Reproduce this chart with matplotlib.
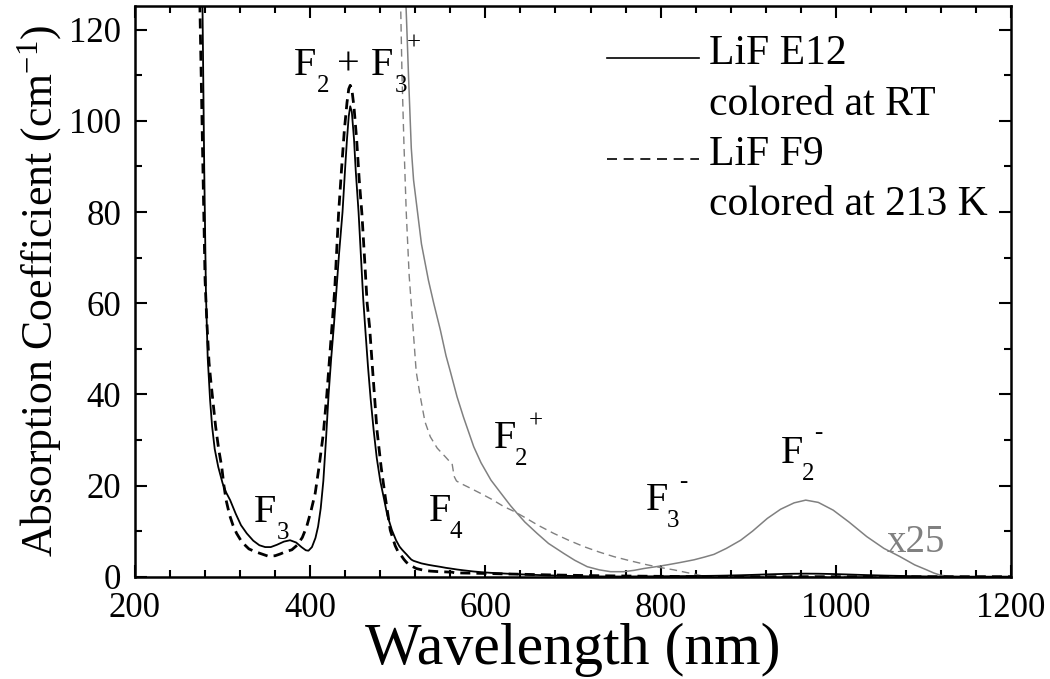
import numpy as np
import matplotlib
matplotlib.use("Agg")
import matplotlib.pyplot as plt
from matplotlib.lines import Line2D
from matplotlib.legend_handler import HandlerLine2D
from matplotlib.ticker import MultipleLocator

plt.rcParams['font.family'] = ['Liberation Serif', 'DejaVu Serif']
plt.rcParams['mathtext.fontset'] = 'custom'
plt.rcParams['mathtext.rm'] = 'Liberation Serif'
plt.rcParams['mathtext.it'] = 'Liberation Serif:italic'

# ---------------- data ----------------
# LiF E12 colored at RT  (main UV/visible part)
e12_wl = [277, 279, 281, 283, 285.7, 288, 291, 295, 300, 304, 308.6, 315, 321, 327.6,
          335, 342, 348.6, 355, 362, 370, 377, 384, 390, 395, 398, 402, 406, 409, 412,
          415, 418, 421, 424, 427, 430, 433, 436.9, 440, 442, 444, 445.7, 447.5, 450,
          452, 455.2, 458, 460.5, 463, 466, 469, 472.4, 476, 480, 483.8, 488, 493.3,
          498, 502, 505]
e12_ab = [126, 90, 62, 48, 38.8, 33, 28, 24.1, 20.5, 18.5, 16.8, 13.8, 11.3, 9.5,
          7.9, 6.9, 6.5, 6.5, 7.0, 7.7, 8.0, 7.5, 6.5, 5.8, 5.7, 6.5, 8.5, 11, 15,
          21, 30, 40, 48, 55, 63, 71, 80, 90, 96, 101, 103.2, 102, 96,
          89, 80, 70, 61, 54, 46, 39, 32.2, 26, 21, 17.5, 13.5, 10.2,
          8.0, 6.6, 5.9]
# LiF E12, tail magnified x25 (grey solid)
e12x25_wl = [505, 508, 510, 512.4, 515.4, 518, 522.7, 527, 535, 541, 548.6, 555, 560,
             567.6, 575, 586.7, 595, 606.3, 617, 628.6, 636.2, 645, 659, 672, 689.5,
             702, 716.2, 730, 742.9, 757.7, 770, 781, 795, 807.6, 822, 838, 850, 860.9,
             875, 891.4, 905, 921.9, 937, 952.4, 965.7, 980, 997, 1015, 1035.3, 1055,
             1073.3, 1090, 1103.7, 1112, 1120, 1130, 1150, 1200]
e12x25_ab = [150, 132, 122, 109, 94, 87, 79.7, 73, 65, 60, 54.1, 48.5, 45,
             39.5, 35, 28.5, 25, 21.2, 18.5, 15.6, 13.9, 12.0, 9.5, 7.3, 5.1,
             3.6, 2.2, 1.5, 1.1, 1.1, 1.4, 1.8, 2.2, 2.6, 3.1, 3.7, 4.3, 4.9,
             6.2, 8.0, 10.0, 12.8, 14.8, 16.2, 16.8, 16.3, 14.6, 12.0, 8.8, 6.2,
             4.4, 2.6, 1.5, 0.8, 0.3, 0.1, 0.0, 0.0]

# LiF F9 colored at 213 K (main part)
f9_wl = [274, 277, 280, 282, 284.5, 286.5, 288.8, 292, 295.5, 299, 301.5, 304, 308,
         312, 316, 322, 330, 337, 343, 352, 360, 366, 372, 379, 385, 391, 396, 401,
         405.7, 410, 415, 419, 423.7, 428, 432.4, 436, 439, 442, 444, 445.7, 447.5,
         450, 453, 456, 459, 462, 465, 467.8, 471, 476.2, 481, 485.7, 491.4, 497,
         500, 503]
f9_ab = [126, 95, 65, 56, 47, 43, 38.8, 33, 28, 24.1, 20, 16.8, 13.5,
         11.2, 9.5, 7.6, 6.1, 5.5, 5.1, 4.5, 4.6, 5.0, 5.5, 5.9, 6.9, 8.6, 11, 14.5,
         18.3, 24, 31.4, 40, 52, 63, 79.7, 90, 98, 104, 107, 107.8, 107,
         103, 96, 87, 79.7, 70, 60, 54.8, 46, 32.2, 24, 17.5, 10.2, 6.8,
         5.6, 4.8]
# LiF F9, tail magnified x25 (grey dashed)
f9x25_wl = [500, 503, 504.8, 507, 509.7, 513, 517.3, 521, 525.7, 531, 537.1, 545,
            554.3, 559, 561.9, 563.5, 564.6, 567, 571.4, 582, 594.3, 607, 620.9, 633,
            645, 660, 678, 695, 712.4, 730, 746.7, 765, 784.8, 800, 815.2, 830, 838,
            846, 852, 1200]
f9x25_ab = [150, 128, 110, 95, 79.7, 66, 54.8, 45, 39.5, 34, 30.7, 28.2,
            26.3, 25.3, 24.9, 23, 21.9, 21, 20.5, 19.5, 18.3, 17, 15.4, 14.3,
            13.0, 11.3, 9.5, 8.0, 6.6, 5.4, 4.4, 3.5, 2.6, 2.0, 1.5, 0.9, 0.6,
            0.25, 0.0, 0.0]
magnification = 25

x_ticks = [200, 400, 600, 800, 1000, 1200]
y_ticks = [0, 20, 40, 60, 80, 100, 120]

# ---------------- assemble full spectra ----------------
def full(main_wl, main_ab, mag_wl, mag_ab):
    mw = np.asarray(mag_wl, float)
    ma = np.asarray(mag_ab, float) / magnification
    keep = mw > main_wl[-1]
    return (np.concatenate([main_wl, mw[keep]]),
            np.concatenate([main_ab, ma[keep]]))

e12_x, e12_y = full(e12_wl, e12_ab, e12x25_wl, e12x25_ab)
f9_x, f9_y = full(f9_wl, f9_ab, f9x25_wl, f9x25_ab)

# ---------------- figure ----------------
fig = plt.figure(figsize=(10.5, 6.79), dpi=100)
ax = fig.add_axes([135 / 1050, 1 - 576.7 / 679, 876 / 1050, 570.7 / 679])

GREY = '#808080'
ax.plot(e12x25_wl, e12x25_ab, color=GREY, lw=1.1, zorder=2)
ax.plot(f9x25_wl, f9x25_ab, color=GREY, lw=1.0, dashes=(5.5, 3.5), zorder=2)
ax.plot(e12_x, e12_y, color='black', lw=1.3, zorder=3)
ax.plot(f9_x, f9_y, color='black', lw=2.0, dashes=(3.6, 2.2), zorder=3)

ax.set_xlim(200, 1200)
ax.set_ylim(0, 125.2)
ax.set_xticks(x_ticks)
ax.set_yticks(y_ticks)
ax.xaxis.set_minor_locator(MultipleLocator(40))
ax.yaxis.set_minor_locator(MultipleLocator(10))
ax.tick_params(which='both', direction='in', top=True, right=True, width=1.5)
ax.tick_params(which='major', length=8.4, labelsize=25)
ax.tick_params(axis='x', which='major', pad=11)
ax.tick_params(axis='y', which='major', pad=10)
ax.tick_params(which='minor', length=4.8)
for s in ax.spines.values():
    s.set_linewidth(1.8)

ax.set_xlabel('Wavelength (nm)', fontsize=43)
ax.set_ylabel(r'Absorption Coefficient (cm$^{\mathregular{-1}}$)', fontsize=31.5)
ax.xaxis.set_label_coords(0.5, -0.080)
ax.yaxis.set_label_coords(-0.081, 0.5)

# ---------------- legend ----------------
class LowLine(HandlerLine2D):
    def create_artists(self, legend, orig_handle, xdescent, ydescent, width,
                       height, fontsize, trans):
        arts = super().create_artists(legend, orig_handle, xdescent, ydescent,
                                      width, height, fontsize, trans)
        for a in arts:
            a.set_ydata(np.asarray(a.get_ydata(), float) - 0.2 * fontsize)
        return arts

h_solid = Line2D([], [], color='black', lw=1.2)
h_dash = Line2D([], [], color='black', lw=1.2, dashes=(6, 4))
h_none = Line2D([], [], color='none')
leg = ax.legend([h_solid, h_none, h_dash, h_none],
                ['LiF E12', 'colored at RT', 'LiF F9', 'colored at 213 K'],
                loc='upper left', bbox_to_anchor=((607 - 135) / 876, 1 - (35 - 6) / 570.7),
                frameon=False, fontsize=30, handlelength=2.2, handletextpad=0.25,
                labelspacing=0.28, borderpad=0, borderaxespad=0,
                handler_map={Line2D: LowLine()})

# ---------------- species labels ----------------
FS_MAIN, FS_SUB = 29, 18

def pix(px, py):
    """convert reference pixel position to data coords"""
    return 200 + (px - 135) / 0.876, (576.7 - py) / 4.56

def species(px, py, base, sub, sup=None, sub_dx=21, sup_dx=34, sup_dy=23, color='black'):
    x, y = pix(px, py)
    ax.text(x, y, base, fontsize=FS_MAIN, ha='left', va='baseline', color=color)
    ax.annotate(sub, xy=(x, y), xytext=(sub_dx, -17), textcoords='offset pixels',
                fontsize=FS_SUB, ha='left', va='baseline', color=color)
    if sup:
        ax.annotate(sup, xy=(x, y), xytext=(sup_dx, sup_dy), textcoords='offset pixels',
                    fontsize=FS_SUB, ha='left', va='baseline', color=color)

species(254, 521.7, 'F', '3', sub_dx=23)
# F2 + F3+
species(294, 74.7, 'F', '2', sub_dx=23)
xp, yp = pix(294, 74.7)
ax.annotate('+', xy=(xp, yp), xytext=(43, 0), textcoords='offset pixels',
            fontsize=FS_MAIN, ha='left', va='baseline')
species(371, 74.7, 'F', '3', sup='+', sub_dx=24, sup_dx=36, sup_dy=25)
species(429, 521, 'F', '4')
species(494, 448, 'F', '2', sup='+', sup_dx=35, sup_dy=21)
species(646, 510, 'F', '3', sup='-', sup_dx=33, sup_dy=22)
species(781, 463.3, 'F', '2', sup='-', sup_dx=33, sup_dy=24)
x25x, x25y = pix(887, 551.7)
ax.text(x25x, x25y, 'x%d' % magnification, fontsize=28, color=GREY, ha='left', va='baseline')

fig.savefig('out.png', dpi=100)
